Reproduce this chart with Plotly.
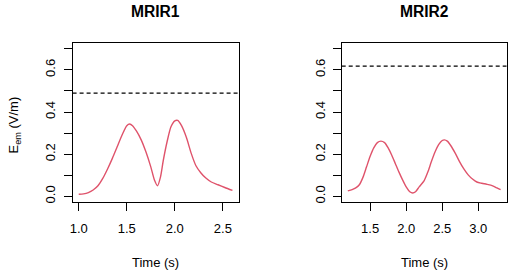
import plotly.graph_objects as go

titles = ["MRIR1", "MRIR2"]
t1 = [1.00, 1.05, 1.10, 1.15, 1.20, 1.25, 1.30, 1.35, 1.40, 1.45, 1.50, 1.53, 1.56, 1.60, 1.65, 1.70,
      1.75, 1.79, 1.82, 1.85, 1.88, 1.92, 1.96, 2.00, 2.03, 2.07, 2.12, 2.17, 2.22, 2.27, 2.32, 2.38,
      2.45, 2.52, 2.60]
e1 = [0.010, 0.012, 0.018, 0.030, 0.050, 0.085, 0.130, 0.180, 0.235, 0.290, 0.335, 0.343, 0.335,
      0.310, 0.268, 0.210, 0.140, 0.075, 0.050, 0.090, 0.170, 0.260, 0.330, 0.358, 0.360, 0.335,
      0.280, 0.205, 0.145, 0.112, 0.088, 0.068, 0.055, 0.042, 0.028]
t2 = [1.19, 1.25, 1.30, 1.35, 1.40, 1.45, 1.50, 1.55, 1.60, 1.65, 1.70, 1.75, 1.80, 1.85, 1.90, 1.95,
      2.00, 2.05, 2.09, 2.13, 2.18, 2.25, 2.30, 2.35, 2.40, 2.45, 2.50, 2.53, 2.57, 2.62, 2.68, 2.74,
      2.80, 2.86, 2.92, 2.98, 3.05, 3.12, 3.20, 3.26, 3.31]
e2 = [0.026, 0.032, 0.040, 0.055, 0.090, 0.140, 0.190, 0.230, 0.255, 0.262, 0.255, 0.230, 0.195,
      0.155, 0.115, 0.078, 0.045, 0.022, 0.016, 0.022, 0.045, 0.075, 0.115, 0.165, 0.210, 0.245,
      0.265, 0.268, 0.262, 0.240, 0.205, 0.165, 0.130, 0.102, 0.082, 0.068, 0.062, 0.057, 0.050,
      0.040, 0.032]
thresholds = [0.49, 0.618]
x_ticks = [[1.0, 1.5, 2.0, 2.5], [1.5, 2.0, 2.5, 3.0]]
y_ticks = [0.0, 0.1, 0.2, 0.3, 0.4, 0.5, 0.6, 0.7]
y_labels = ["0.0", " ", "0.2", " ", "0.4", " ", "0.6", " "]
x_label = "Time (s)"
y_label = "E<sub>em</sub> (V/m)"

W, H = 510, 274
FONT = "Liberation Sans, Arial, sans-serif"
RED = "#DF536B"

series = [(t1, e1), (t2, e2)]
domains = [(70 / W, 237 / W), (340.7 / W, 506.7 / W)]
ydom = (1 - 203 / H, 1 - 43 / H)

fig = go.Figure()
for i, (t, e) in enumerate(series):
    xa = "x" if i == 0 else "x2"
    ya = "y" if i == 0 else "y2"
    fig.add_trace(go.Scatter(x=t, y=e, mode="lines", xaxis=xa, yaxis=ya,
                             line=dict(color=RED, width=1.4, shape="spline", smoothing=0.7),
                             showlegend=False, hoverinfo="skip"))
    lo, hi = min(t), max(t)
    r = hi - lo
    fig.add_trace(go.Scatter(x=[lo - 0.04 * r, hi + 0.04 * r], y=[thresholds[i]] * 2, mode="lines",
                             xaxis=xa, yaxis=ya, line=dict(color="black", width=1.2, dash="4px,3px"),
                             showlegend=False, hoverinfo="skip"))
    axis_common = dict(showline=True, linecolor="black", linewidth=1, mirror=True,
                       ticks="outside", ticklen=8, tickcolor="black", tickwidth=1,
                       showgrid=False, zeroline=False,
                       tickfont=dict(family=FONT, size=13, color="black"))
    xkey = "xaxis" if i == 0 else "xaxis2"
    ykey = "yaxis" if i == 0 else "yaxis2"
    fig.layout[xkey] = dict(domain=domains[i], anchor=ya, range=[lo - 0.04 * r, hi + 0.04 * r],
                            tickvals=x_ticks[i], ticktext=[f"{v:.1f}" for v in x_ticks[i]],
                            ticklabelstandoff=6, **axis_common)
    fig.layout[ykey] = dict(domain=ydom, anchor=xa, range=[-0.028, 0.728],
                            tickvals=y_ticks, ticktext=y_labels, tickangle=-90,
                            ticklabelstandoff=3, **axis_common)
    cx = (domains[i][0] + domains[i][1]) / 2
    fig.add_annotation(text=f"<b>{titles[i]}</b>", x=cx, y=1 - 12 / H, xref="paper", yref="paper",
                       showarrow=False, font=dict(family=FONT, size=15.6, color="black"),
                       xanchor="center", yanchor="middle")
    fig.add_annotation(text=x_label, x=cx, y=1 - 263 / H, xref="paper", yref="paper",
                       showarrow=False, font=dict(family=FONT, size=13, color="black"),
                       xanchor="center", yanchor="middle")

fig.add_annotation(text=y_label, x=12 / W, y=1 - 125 / H, xref="paper", yref="paper",
                   showarrow=False, textangle=-90, font=dict(family=FONT, size=13, color="black"),
                   xanchor="center", yanchor="middle")

fig.update_layout(width=W, height=H, margin=dict(l=0, r=0, t=0, b=0),
                  paper_bgcolor="white", plot_bgcolor="white")
fig.write_html("out.html", config={"displayModeBar": False},
               post_script="document.body.style.margin='0';document.body.style.overflow='hidden';")
